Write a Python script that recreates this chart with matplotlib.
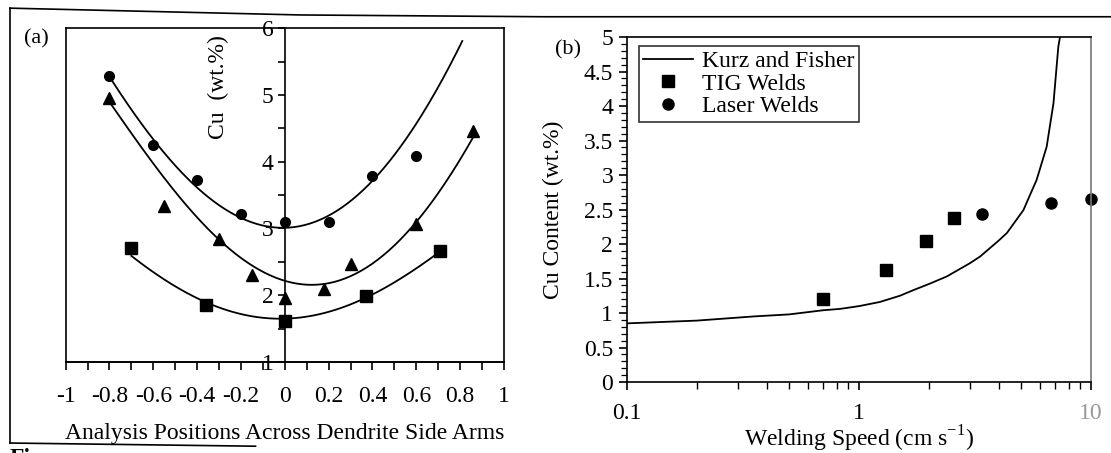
import numpy as np
import matplotlib.pyplot as plt
from matplotlib.ticker import MultipleLocator, FixedLocator, LogLocator, NullFormatter
from matplotlib.lines import Line2D

plt.rcParams['font.family'] = ['Liberation Serif', 'DejaVu Serif']
plt.rcParams['font.size'] = 17

# (a) Cu across dendrite side arms - measured points for three arms
pos_circ = [-0.8, -0.6, -0.4, -0.2, 0.0, 0.2, 0.4, 0.6]
cu_circ = [5.28, 4.25, 3.73, 3.22, 3.10, 3.10, 3.79, 4.08]
pos_tri = [-0.8, -0.55, -0.3, -0.15, 0.0, 0.18, 0.3, 0.6, 0.86]
cu_tri = [4.96, 3.34, 2.84, 2.30, 1.96, 2.10, 2.47, 3.06, 4.46]
pos_sq = [-0.7, -0.36, 0.0, 0.37, 0.71]
cu_sq = [2.70, 1.86, 1.62, 1.99, 2.66]

# trend curves
curve_x_circ = [-0.8, -0.7, -0.6, -0.5, -0.4, -0.3, -0.2, -0.1, 0.0, 0.1, 0.2, 0.3, 0.4, 0.5, 0.6, 0.7, 0.81]
curve_y_circ = [5.30, 4.78, 4.25, 3.94, 3.64, 3.39, 3.19, 3.06, 3.00, 3.01, 3.12, 3.41, 3.79, 4.13, 4.53, 5.13, 5.80]
curve_x_tri = [-0.8, -0.7, -0.6, -0.5, -0.4, -0.3, -0.2, -0.1, 0.0, 0.1, 0.2, 0.3, 0.4, 0.5, 0.6, 0.7, 0.8, 0.86]
curve_y_tri = [4.93, 4.38, 3.94, 3.54, 3.19, 2.89, 2.59, 2.34, 2.17, 2.12, 2.14, 2.29, 2.54, 2.79, 3.09, 3.49, 3.99, 4.41]
curve_x_sq = [-0.7, -0.6, -0.5, -0.4, -0.3, -0.2, -0.1, 0.0, 0.1, 0.2, 0.3, 0.4, 0.5, 0.6, 0.7]
curve_y_sq = [2.59, 2.34, 2.14, 1.95, 1.82, 1.72, 1.66, 1.65, 1.67, 1.75, 1.87, 2.02, 2.19, 2.39, 2.64]

# (b) Cu content vs welding speed
kf_speed = [0.1, 0.2, 0.35, 0.5, 0.7, 0.83, 1.0, 1.23, 1.5, 1.71, 2.0, 2.39,
            3.0, 3.33, 4.0, 4.34, 5.11, 5.83, 6.44, 6.89, 7.23, 7.35]
kf_cu = [0.85, 0.89, 0.95, 0.98, 1.04, 1.06, 1.10, 1.16, 1.25, 1.33, 1.42, 1.53,
         1.72, 1.82, 2.05, 2.16, 2.49, 2.93, 3.41, 4.04, 4.86, 5.0]
tig_speed = [0.70, 1.31, 1.94, 2.56]
tig_cu = [1.20, 1.62, 2.05, 2.38]
laser_speed = [3.40, 6.7, 10.0]
laser_cu = [2.43, 2.60, 2.65]

fig = plt.figure(figsize=(11.11, 4.53), dpi=100)

# ---------- panel (a) ----------
rect_a = [0.0591, 0.2009, 0.3945, 0.737]
frame = fig.add_axes(rect_a)
frame.set_xticks([])
frame.set_yticks([])
frame.patch.set_visible(False)
for s in frame.spines.values():
    s.set_linewidth(1.2)

ax = fig.add_axes(rect_a)
ax.patch.set_visible(False)
ax.set_xlim(-1, 1)
ax.set_ylim(1, 6)
ax.spines['left'].set_position(('data', 0))
ax.spines['left'].set_linewidth(1.2)
ax.spines['bottom'].set_linewidth(1.2)
ax.spines['top'].set_visible(False)
ax.spines['right'].set_visible(False)

ax.set_xticks(np.round(np.arange(-1, 1.01, 0.2), 1))
ax.set_xticklabels(['-1', '-0.8', '-0.6', '-0.4', '-0.2', '0', '0.2', '0.4', '0.6', '0.8', '1'])
ax.xaxis.set_minor_locator(MultipleLocator(0.1))
ax.yaxis.set_major_locator(MultipleLocator(1))
ax.yaxis.set_minor_locator(MultipleLocator(0.5))
ax.tick_params(axis='x', which='both', direction='out', length=6, width=1.2, pad=11)
ax.tick_params(axis='y', which='both', direction='out', length=5, width=1.2, pad=3)

curves = [(curve_x_circ, curve_y_circ), (curve_x_tri, curve_y_tri), (curve_x_sq, curve_y_sq)]
for cx, cy in curves:
    coef = np.polyfit(cx, cy, 4)
    xs = np.linspace(cx[0], cx[-1], 200)
    ax.plot(xs, np.polyval(coef, xs), color='black', lw=1.3)

ax.plot(pos_circ, cu_circ, linestyle='none', marker='o', ms=7, color='black')
ax.plot(pos_tri, cu_tri, linestyle='none', marker='^', ms=9, color='black')
ax.plot(pos_sq, cu_sq, linestyle='none', marker='s', ms=8, color='black')

ax.set_xlabel('Analysis Positions Across Dendrite Side Arms', labelpad=12)
ax.set_ylabel('Cu  (wt.%)')
ax.yaxis.set_label_coords(0.372, 0.823)

# ---------- panel (b) ----------
bx = fig.add_axes([0.5644, 0.1567, 0.4176, 0.7616])
bx.set_xscale('log')
bx.set_xlim(0.1, 10)
bx.set_ylim(0, 5)
bx.plot(kf_speed, kf_cu, color='black', lw=1.3, label='Kurz and Fisher')
bx.plot(tig_speed, tig_cu, linestyle='none', marker='s', ms=8.5, color='black', label='TIG Welds')
bx.plot(laser_speed, laser_cu, linestyle='none', marker='o', ms=8, color='black',
        label='Laser Welds', clip_on=False)
for s in bx.spines.values():
    s.set_linewidth(1.2)
bx.spines['right'].set_color('#777777')

bx.set_yticks(np.arange(0, 5.01, 0.5))
bx.set_yticklabels(['0', '0.5', '1', '1.5', '2', '2.5', '3', '3.5', '4', '4.5', '5'])
bx.yaxis.set_minor_locator(MultipleLocator(0.1))
bx.xaxis.set_major_locator(FixedLocator([0.1, 1, 10]))
bx.xaxis.set_minor_locator(LogLocator(base=10, subs=np.arange(2, 10)))
bx.xaxis.set_minor_formatter(NullFormatter())
bx.set_xticklabels(['0.1', '1', '10'])
bx.get_xticklabels()[2].set_color('#999999')
bx.tick_params(axis='x', which='major', direction='out', length=6, width=1.2, pad=9)
bx.tick_params(axis='x', which='minor', direction='out', length=5, width=1.0)
bx.tick_params(axis='y', which='major', direction='out', length=6, width=1.2, pad=4)
bx.tick_params(axis='y', which='minor', direction='out', length=4, width=0.9)
bx.set_xlabel('Welding Speed (cm s$^{\\mathregular{-1}}$)', labelpad=0)
bx.set_ylabel('Cu Content (wt.%)')
bx.yaxis.set_label_coords(-0.135, 0.5)

leg = bx.legend(loc='upper left', bbox_to_anchor=(0.025, 0.975), frameon=True, fancybox=False,
                edgecolor='black', handlelength=2.1, handletextpad=0.4, borderpad=0.2,
                labelspacing=0.05, borderaxespad=0.0, fontsize=17)
leg.get_frame().set_linewidth(1.2)

# panel letters
fig.text(0.022, 0.905, '(a)', fontsize=16)
fig.text(0.5, 0.88, '(b)', fontsize=16)

# scanned page frame
fig.add_artist(Line2D([0.009, 0.009], [0.982, 0.022], transform=fig.transFigure, color='black', lw=1.2))
fig.add_artist(Line2D([0.009, 0.27, 0.49, 1.0], [0.982, 0.967, 0.963, 0.963],
                      transform=fig.transFigure, color='black', lw=1.2))
fig.add_artist(Line2D([0.009, 0.23], [0.022, 0.015], transform=fig.transFigure, color='black', lw=1.2))
fig.text(0.009, -0.012, 'Fi', fontsize=17, fontweight='bold', va='center')

fig.savefig('out.png', dpi=100)
